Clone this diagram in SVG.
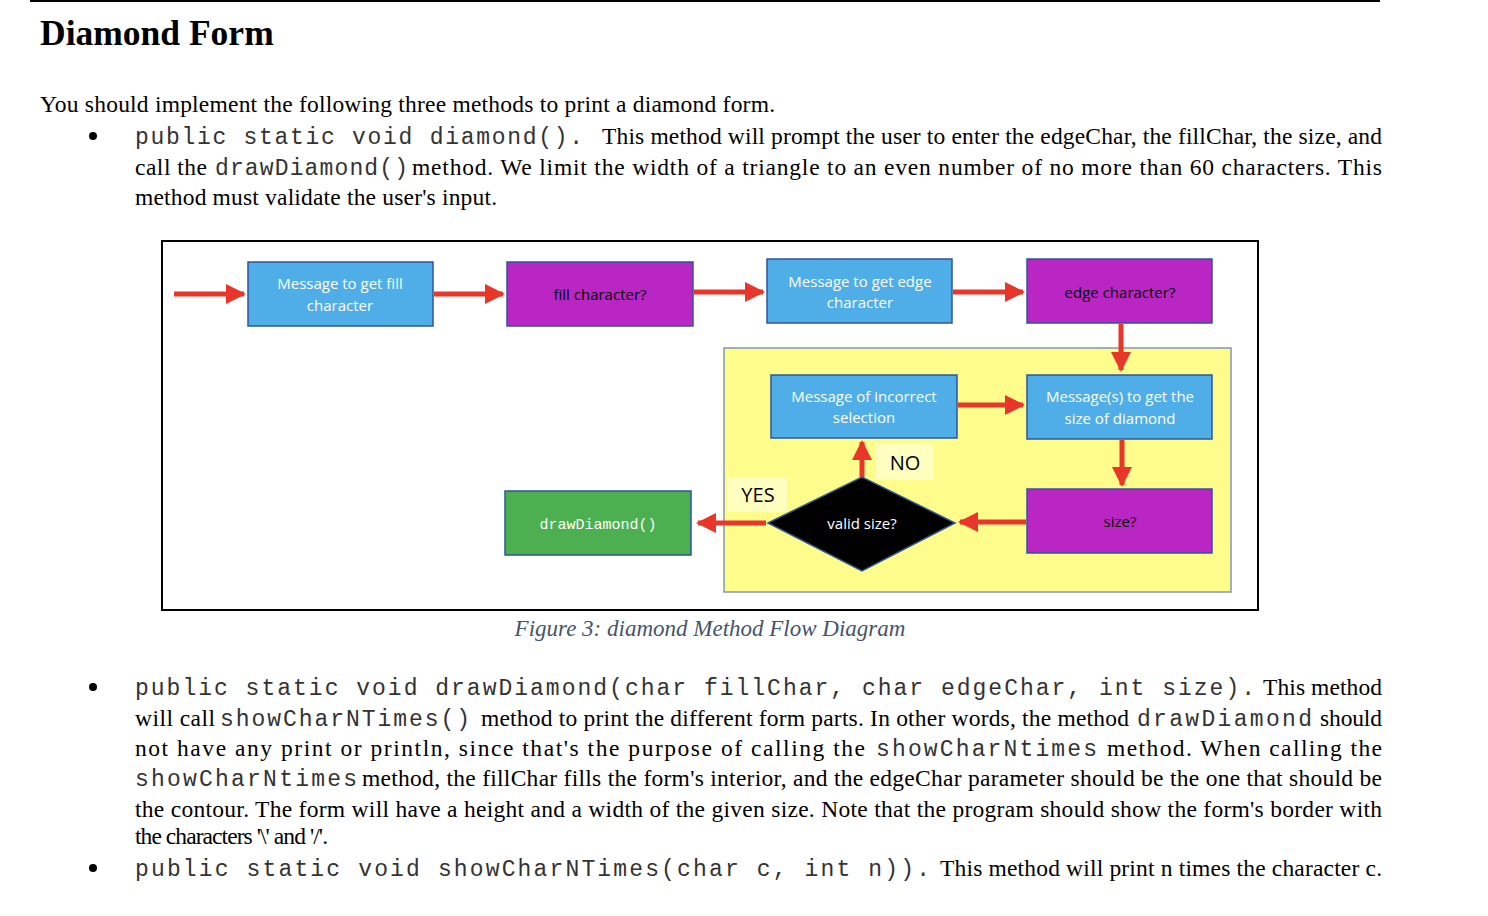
<svg xmlns="http://www.w3.org/2000/svg" width="1488" height="916" viewBox="0 0 1488 916">
<style>
.s{font-family:"Liberation Serif",serif;font-size:23.5px;fill:#000}
.m{font-family:"Liberation Mono",monospace;font-size:23px;fill:#333}
.n{font-family:"Open Sans","Noto Sans",sans-serif;font-size:15px;text-anchor:middle}
.lb{font-size:20px}
.w{fill:#fff}
.blue{fill:#4FAEE8;stroke:#2F5597;stroke-width:1.5}
.pur{fill:#B926C4;stroke:#2F5597;stroke-width:1.5}
.ar{stroke:#E8372A;stroke-width:5;fill:none;marker-end:url(#ah)}
</style>
<defs><marker id="ah" viewBox="0 0 10 10" refX="9" refY="5" markerWidth="4" markerHeight="4" orient="auto" markerUnits="strokeWidth"><path d="M0,0L10,5L0,10z" fill="#E8372A"/></marker></defs>
<rect width="1488" height="916" fill="#fff"/>
<line x1="30" y1="1" x2="1380" y2="1" stroke="#000" stroke-width="2"/>
<text x="40" y="45" font-family="Liberation Serif,serif" font-size="35.5" font-weight="bold">Diamond Form</text>
<text class="s" x="40" y="112" textLength="735">You should implement the following three methods to print a diamond form.</text>
<g><circle cx="93" cy="136" r="4"/><circle cx="93" cy="687" r="4"/><circle cx="93" cy="868" r="4"/></g>
<text class="m" x="135" y="144" textLength="448">public static void diamond().</text>
<text class="s" x="602" y="144" textLength="780">This method will prompt the user to enter the edgeChar, the fillChar, the size, and</text>
<text class="s" x="135" y="175" textLength="72">call the</text>
<text class="m" x="215" y="175" textLength="193">drawDiamond()</text>
<text class="s" x="412" y="175" textLength="970">method. We limit the width of a triangle to an even number of no more than 60 characters. This</text>
<text class="s" x="135" y="205" textLength="362">method must validate the user's input.</text>
<rect x="162" y="241" width="1096" height="369" fill="#fff" stroke="#000" stroke-width="2"/>
<rect x="724" y="348" width="507" height="244" fill="#FEFD8C" stroke="#8497B0" stroke-width="1.5"/>
<g id="connectors">
<line class="ar" x1="174" y1="294" x2="244" y2="294"/>
<line class="ar" x1="434" y1="294" x2="503" y2="294"/>
<line class="ar" x1="694" y1="292" x2="763" y2="292"/>
<line class="ar" x1="953" y1="292" x2="1023" y2="292"/>
<line class="ar" x1="1121" y1="324" x2="1121" y2="370"/>
<line class="ar" x1="1122" y1="440" x2="1122" y2="485"/>
<line class="ar" x1="1026" y1="522" x2="960" y2="522"/>
<line class="ar" x1="766" y1="523" x2="698" y2="523"/>
<line class="ar" x1="862" y1="477" x2="862" y2="442"/>
<line class="ar" x1="958" y1="405" x2="1023" y2="405"/>
</g>
<g id="n1"><rect class="blue" x="248" y="262" width="185" height="64"/><text class="n w" x="340" y="289">Message to get fill</text><text class="n w" x="340" y="311">character</text></g>
<g id="n2"><rect class="pur" x="507" y="262" width="186" height="64"/><text class="n" x="600" y="300">fill character?</text></g>
<g id="n3"><rect class="blue" x="767" y="259" width="185" height="64"/><text class="n w" x="860" y="287">Message to get edge</text><text class="n w" x="860" y="308">character</text></g>
<g id="n4"><rect class="pur" x="1027" y="259" width="185" height="64"/><text class="n" x="1120" y="298">edge character?</text></g>
<g id="n5"><rect class="blue" x="771" y="375" width="186" height="63"/><text class="n w" x="864" y="402">Message of incorrect</text><text class="n w" x="864" y="423">selection</text></g>
<g id="n6"><rect class="blue" x="1027" y="375" width="185" height="64"/><text class="n w" x="1120" y="402">Message(s) to get the</text><text class="n w" x="1120" y="424">size of diamond</text></g>
<g id="n7"><rect class="pur" x="1027" y="489" width="185" height="64"/><text class="n" x="1120" y="527">size?</text></g>
<g id="n8"><path d="M768,523L862,477L955,523L862,571z" fill="#000" stroke="#2F5597" stroke-width="1.5"/><text class="n w" x="862" y="529">valid size?</text></g>
<g id="n9"><rect x="505" y="491" width="186" height="64" fill="#4CAF50" stroke="#2F5597" stroke-width="1.5"/><text x="598" y="529" font-family="Liberation Mono,monospace" font-size="15" fill="#fff" text-anchor="middle">drawDiamond()</text></g>
<rect x="876" y="444" width="58" height="36" fill="#FFFFC0"/><text class="n lb" x="905" y="470">NO</text>
<rect x="727" y="477" width="60" height="35" fill="#FFFFC0"/><text class="n lb" x="758" y="502">YES</text>
<text x="710" y="636" font-family="Liberation Serif,serif" font-size="23" font-style="italic" fill="#44546A" text-anchor="middle">Figure 3: diamond Method Flow Diagram</text>
<text class="m" x="135" y="695" textLength="1120">public static void drawDiamond(char fillChar, char edgeChar, int size).</text>
<text class="s" x="1263" y="695" textLength="119">This method</text>
<text class="s" x="135" y="726" textLength="80">will call</text>
<text class="m" x="220" y="726" textLength="250">showCharNTimes()</text>
<text class="s" x="481" y="726" textLength="648">method to print the different form parts. In other words, the method</text>
<text class="m" x="1137" y="726" textLength="175">drawDiamond</text>
<text class="s" x="1320" y="726" textLength="62">should</text>
<text class="s" x="135" y="756" textLength="730">not have any print or println, since that's the purpose of calling the</text>
<text class="m" x="876" y="756" textLength="221">showCharNtimes</text>
<text class="s" x="1107" y="756" textLength="275">method. When calling the</text>
<text class="m" x="135" y="786" textLength="222">showCharNtimes</text>
<text class="s" x="362" y="786" textLength="1020">method, the fillChar fills the form's interior, and the edgeChar parameter should be the one that should be</text>
<text class="s" x="135" y="817" textLength="1247">the contour. The form will have a height and a width of the given size. Note that the program should show the form's border with</text>
<text class="s" x="135" y="844" textLength="193">the characters '\' and '/'.</text>
<text class="m" x="135" y="876" textLength="795">public static void showCharNTimes(char c, int n)).</text>
<text class="s" x="940" y="876" textLength="442">This method will print n times the character c.</text>
</svg>
